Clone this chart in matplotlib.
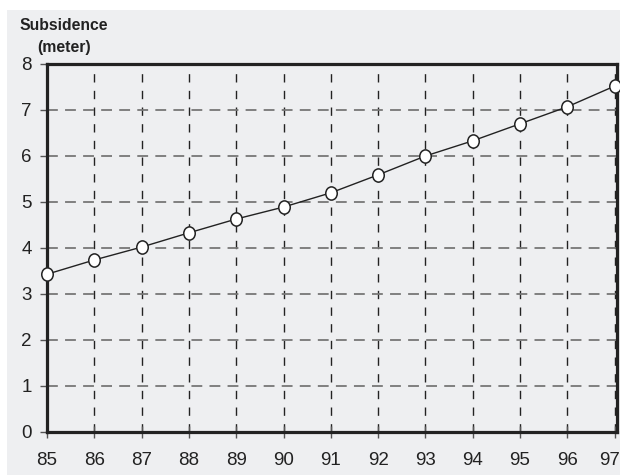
import matplotlib
matplotlib.use("Agg")
import matplotlib.pyplot as plt
from matplotlib.patches import Rectangle
from matplotlib.path import Path
from matplotlib.transforms import Affine2D, ScaledTranslation

plt.rcParams['font.family'] = ['Liberation Sans', 'DejaVu Sans']

years = [85, 86, 87, 88, 89, 90, 91, 92, 93, 94, 95, 96, 97]
subsidence = [3.43, 3.74, 4.02, 4.33, 4.63, 4.89, 5.20, 5.59, 6.00, 6.33, 6.70, 7.07, 7.52]
yticks = [0, 1, 2, 3, 4, 5, 6, 7, 8]

bg = '#eeeff1'
fig = plt.figure(figsize=(6.2, 4.75), dpi=100)
fig.patch.set_facecolor('white')
fig.patches.append(Rectangle((7 / 620, 0), 1, 1 - 10 / 475, transform=fig.transFigure,
                             facecolor=bg, edgecolor='none', zorder=-10))

ax = fig.add_axes([47 / 620, 43 / 475, 570 / 620, 368 / 475])
ax.set_facecolor(bg)

for x in years[1:]:
    ax.axvline(x, color='#222222', lw=1.0, ls=(0, (6, 6)), zorder=1)
for y in yticks[1:]:
    ax.axhline(y, color='#777777', lw=1.3, ls=(0, (6, 4)), zorder=1)

# slightly tall oval markers, as in the original
oval = Affine2D().scale(0.87, 1.0).transform_path(Path.unit_circle())
ax.plot(years, subsidence, color='#222222', lw=1.0, marker=oval, markersize=9.5,
        markerfacecolor='white', markeredgecolor='#222222', markeredgewidth=1.1,
        zorder=3, clip_on=False)

ax.set_xlim(85, 97.05)
ax.set_ylim(0, 8)
ax.set_xticks(years)
ax.set_yticks(yticks)
ax.tick_params(labelsize=13.5, labelcolor='#222222', color='#555555', width=1)
ax.tick_params(axis='y', length=5, pad=6)
ax.tick_params(axis='x', direction='inout', length=9, pad=10)
last = ax.get_xticklabels()[-1]
last.set_transform(last.get_transform() + ScaledTranslation(-5 / 100, 0, fig.dpi_scale_trans))

for s in ax.spines.values():
    s.set_linewidth(2.3)
    s.set_color('#222222')

fig.text(19 / 620, 1 - 30 / 475, 'Subsidence', fontsize=11.3, fontweight='bold',
         color='#222222', ha='left', va='baseline')
fig.text(64 / 620, 1 - 52 / 475, '(meter)', fontsize=11.3, fontweight='bold',
         color='#222222', ha='center', va='baseline')

fig.savefig('out.png', dpi=100, facecolor=fig.get_facecolor())
